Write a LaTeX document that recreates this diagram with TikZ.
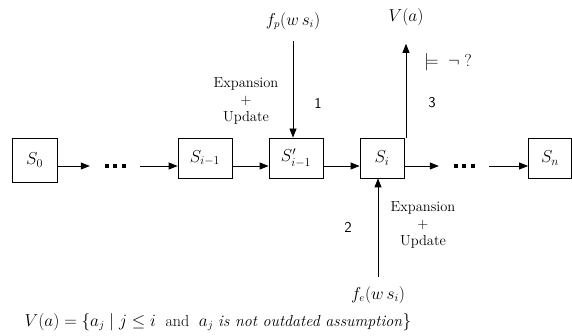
\documentclass[tikz,border=0pt]{standalone}
\usepackage{amsmath,amssymb}
\usepackage{tikz}
\usetikzlibrary{arrows.meta}
\tikzstyle{stateNode}=[rectangle, draw=black, line width=0.8pt, minimum width=44pt,
  minimum height=40pt, inner sep=0pt, font=\fontsize{17}{19}\selectfont]
\tikzstyle{dotsNode}=[inner sep=0pt, minimum width=50pt]
\tikzstyle{labelNode}=[align=center, inner sep=0pt, font=\fontsize{14.5}{17}\selectfont]
\tikzstyle{mathNode}=[inner sep=1pt, font=\fontsize{16}{18}\selectfont]
\tikzstyle{stepNum}=[inner sep=0pt, font=\fontsize{15}{17}\selectfont\sffamily]
\tikzstyle{arr}=[-{Triangle[length=9pt,width=7pt]}, line width=0.8pt]
\newcommand{\dotrow}{\rule{4pt}{4pt}\hspace{4.5pt}\rule{4pt}{4pt}\hspace{4.5pt}\rule{4pt}{4pt}}

\begin{document}
\begin{tikzpicture}[x=1pt,y=-1pt]
\useasboundingbox (0,0) rectangle (572,336);
% states along the chain
\node[stateNode, minimum width=45pt, minimum height=44pt] (s0) at (34.5,160) {$S_0$};
\node[dotsNode] (dotsA) at (115,166) {\dotrow};
\node[stateNode, minimum width=54pt] (sim1) at (205,158) {$S_{i-1}$};
\node[stateNode, minimum width=54pt] (sprime) at (296,158) {$S'_{i-1}$};
\node[stateNode] (si) at (382,158) {$S_i$};
\node[dotsNode] (dotsB) at (464,166) {\dotrow};
\node[stateNode, minimum width=43pt] (sn) at (550,158) {$S_n$};
\draw[arr] ([yshift=-6pt]s0.east) -- (dotsA);
\draw[arr] (dotsA) -- ([yshift=-8pt]sim1.west);
\draw[arr] ([yshift=-8pt]sim1.east) -- ([yshift=-8pt]sprime.west);
\draw[arr] ([yshift=-8pt]sprime.east) -- ([yshift=-8pt]si.west);
\draw[arr] ([yshift=-8pt]si.east) -- (dotsB);
\draw[arr] (dotsB) -- ([yshift=-8pt]sn.west);
% step 1: from above
\node[mathNode] (fp) at (293,21) {$f_p(w\,s_i)$};
\draw[arr, shorten <=10pt] (fp.south) -- (fp |- sprime.north);
\node[stepNum] (one) at (318,103) {1};
\node[labelNode] (expA) at (246,101) {Expansion\\+\\Update};
% step 2: from below
\node[mathNode] (fe) at (378,295) {$f_e(w\,s_i)$};
\draw[arr, shorten <=8pt] (fe.north) -- (fe |- si.south);
\node[stepNum] (two) at (348,227) {2};
\node[labelNode] (expB) at (423,225) {Expansion\\+\\Update};
% step 3: query
\node[mathNode] (va) at (406,17) {$V(a)$};
\draw[arr, shorten >=17pt] (va |- si.north) -- (va.south);
\node[mathNode] (ent) at (448,62) {$\models\;\neg\;?$};
\node[stepNum] (three) at (432,103) {3};
% definition of V(a)
\node[mathNode] (def) at (218,322) {$V(a)=\{a_j \mid j\le i$ \ and \ $a_j$ \textit{is not outdated assumption}$\}$};
\end{tikzpicture}
\end{document}
